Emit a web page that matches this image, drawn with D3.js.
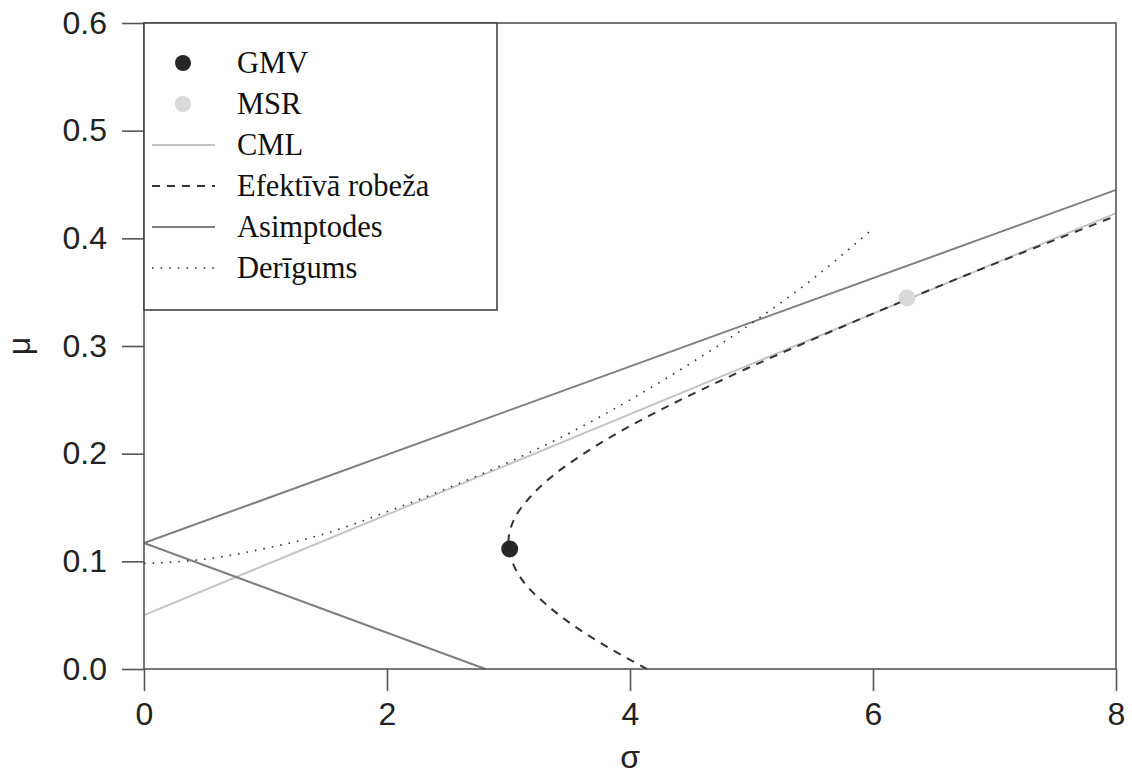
<!DOCTYPE html>
<meta charset="utf-8">
<title>Efektīvā robeža</title>
<script src="https://d3js.org/d3.v7.min.js"></script>
<style>
  body { margin: 0; background: #fff; }
  .tick text { font-family: "Liberation Sans", Arial, sans-serif; font-size: 32px; fill: #222; }
  .axis path { display: none; }
  .axis line { stroke: #555; stroke-width: 1.6px; }
  text.axlabel { font-family: "Liberation Sans", Arial, sans-serif; font-size: 32px; fill: #222; }
  .legend text { font-family: "Liberation Serif", "Times New Roman", serif; font-size: 30.5px; fill: #111; }
</style>
<div id="chart"></div>
<script>
// axis ticks
var xTicks = [0, 2, 4, 6, 8];
var yTicks = [0.0, 0.1, 0.2, 0.3, 0.4, 0.5, 0.6];

// efficient frontier (sigma, mu)
var frontierSigma = [4.14, 3.82, 3.54, 3.31, 3.13, 3.03, 3.00, 3.05, 3.18, 3.37, 3.62, 3.91, 4.24, 4.60, 4.98, 5.38, 5.79, 6.21, 6.64, 7.08, 7.53, 7.98, 8.00];
var frontierMu    = [0.00, 0.02, 0.04, 0.06, 0.08, 0.10, 0.12, 0.14, 0.16, 0.18, 0.20, 0.22, 0.24, 0.26, 0.28, 0.30, 0.32, 0.34, 0.36, 0.38, 0.40, 0.420, 0.421];

// asymptotes: upper and lower branch
var asymUpperSigma = [0, 8];
var asymUpperMu    = [0.117, 0.445];
var asymLowerSigma = [0, 2.81];
var asymLowerMu    = [0.117, 0.0];

// capital market line
var cmlSigma = [0, 8];
var cmlMu    = [0.05, 0.4234];

// "Derīgums" dotted curve
var utilSigma = [0, 0.5, 1, 1.5, 2, 2.5, 3, 3.5, 4, 4.5, 5, 5.5, 6];
var utilMu    = [0.098, 0.102, 0.112, 0.126, 0.146, 0.168, 0.192, 0.219, 0.250, 0.284, 0.321, 0.362, 0.409];

// points
var gmv = [3.01, 0.1115];
var msr = [6.28, 0.3445];

var legendLabels = ["GMV", "MSR", "CML", "Efektīvā robeža", "Asimptodes", "Derīgums"];

var margin = {top: 23, right: 16, bottom: 107, left: 144},
    width = 1132 - margin.left - margin.right,
    height = 776 - margin.top - margin.bottom;

var svg = d3.select("#chart").append("svg")
    .attr("width", 1132)
    .attr("height", 776)
  .append("g")
    .attr("transform", "translate(" + margin.left + "," + margin.top + ")");

var x = d3.scaleLinear().domain([0, 8]).range([0, width]);
var y = d3.scaleLinear().domain([0, 0.6]).range([height, 0]);

svg.append("g")
    .attr("class", "axis")
    .attr("transform", "translate(0," + height + ")")
    .call(d3.axisBottom(x).tickValues(xTicks).tickSize(22).tickPadding(11).tickFormat(d3.format("d")));

svg.append("g")
    .attr("class", "axis")
    .call(d3.axisLeft(y).tickValues(yTicks).tickSize(22).tickPadding(15).tickFormat(d3.format(".1f")));

var line = d3.line().x(function(d) { return x(d[0]); }).y(function(d) { return y(d[1]); });
function zip(a, b) { return a.map(function(v, i) { return [v, b[i]]; }); }

var plot = svg.append("g");

plot.append("path").datum(zip(cmlSigma, cmlMu))
    .attr("d", line).attr("fill", "none")
    .attr("stroke", "#c4c4c4").attr("stroke-width", 2);

plot.append("path").datum(zip(asymUpperSigma, asymUpperMu))
    .attr("d", line).attr("fill", "none")
    .attr("stroke", "#7f7f7f").attr("stroke-width", 2);
plot.append("path").datum(zip(asymLowerSigma, asymLowerMu))
    .attr("d", line).attr("fill", "none")
    .attr("stroke", "#7f7f7f").attr("stroke-width", 2);

plot.append("path").datum(zip(utilSigma, utilMu))
    .attr("d", d3.line().curve(d3.curveMonotoneX)
        .x(function(d) { return x(d[0]); }).y(function(d) { return y(d[1]); }))
    .attr("fill", "none")
    .attr("stroke", "#333").attr("stroke-width", 1.6)
    .attr("stroke-dasharray", "1.6,7");

plot.append("path").datum(zip(frontierSigma, frontierMu))
    .attr("d", d3.line().curve(d3.curveCatmullRom)
        .x(function(d) { return x(d[0]); }).y(function(d) { return y(d[1]); }))
    .attr("fill", "none")
    .attr("stroke", "#333").attr("stroke-width", 2)
    .attr("stroke-dasharray", "8,7");

plot.append("circle").attr("cx", x(gmv[0])).attr("cy", y(gmv[1])).attr("r", 8.5).attr("fill", "#262626");
plot.append("circle").attr("cx", x(msr[0])).attr("cy", y(msr[1])).attr("r", 8.5).attr("fill", "#d9d9d9");

// frame
svg.append("rect")
    .attr("width", width).attr("height", height)
    .attr("fill", "none").attr("stroke", "#555").attr("stroke-width", 1.6);

// axis labels
svg.append("text").attr("class", "axlabel")
    .attr("x", width / 2).attr("y", height + 99)
    .attr("text-anchor", "middle").text("σ");
svg.append("text").attr("class", "axlabel")
    .attr("transform", "translate(" + (30 - margin.left) + "," + (346 - margin.top) + ") rotate(-90)")
    .attr("text-anchor", "middle").text("μ");

// legend
var lg = svg.append("g").attr("class", "legend");
lg.append("rect")
    .attr("width", 353).attr("height", 287)
    .attr("fill", "#fff").attr("stroke", "#444").attr("stroke-width", 1.6);

var rowY = function(i) { return 40 + i * 41; };
var items = lg.selectAll("g.item").data(legendLabels).enter().append("g")
    .attr("class", "item")
    .attr("transform", function(d, i) { return "translate(0," + rowY(i) + ")"; });

items.append("text")
    .attr("x", 93).attr("y", 0).attr("dy", "0.33em")
    .text(function(d) { return d; });

items.filter(function(d, i) { return i < 2; }).append("circle")
    .attr("cx", 39).attr("r", 8)
    .attr("fill", function(d, i) { return i === 0 ? "#262626" : "#d9d9d9"; });

var lineStyles = [null, null,
    {stroke: "#c4c4c4", dash: null, w: 2},
    {stroke: "#333", dash: "8,7", w: 2},
    {stroke: "#7f7f7f", dash: null, w: 2},
    {stroke: "#333", dash: "1.6,7", w: 1.6}];
items.filter(function(d, i) { return i >= 2; }).append("line")
    .attr("x1", 8).attr("x2", 71)
    .attr("stroke", function(d) { return lineStyles[legendLabels.indexOf(d)].stroke; })
    .attr("stroke-width", function(d) { return lineStyles[legendLabels.indexOf(d)].w; })
    .attr("stroke-dasharray", function(d) { return lineStyles[legendLabels.indexOf(d)].dash; });
</script>
